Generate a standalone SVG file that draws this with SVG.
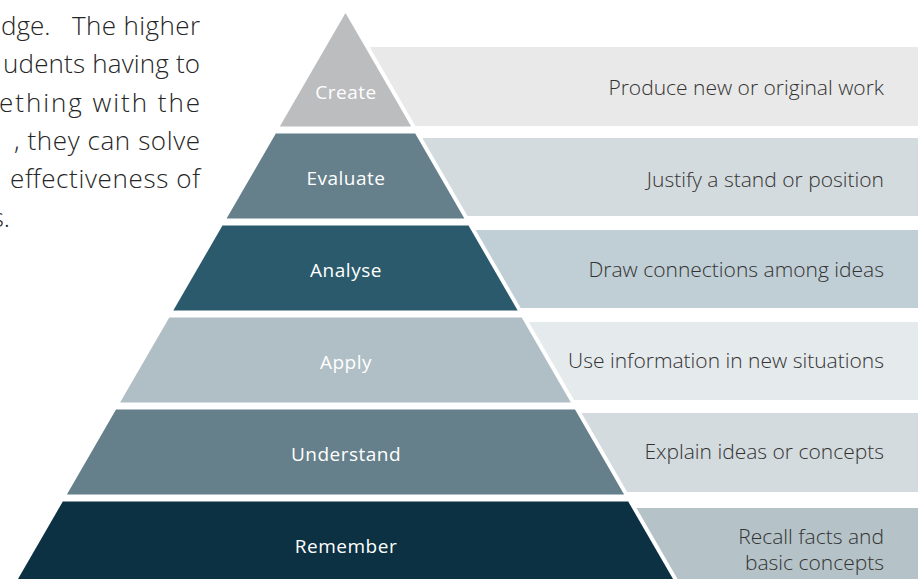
<svg xmlns="http://www.w3.org/2000/svg" width="920" height="579" viewBox="0 0 920 579">
  <style>
    .para { font-family: "Open Sans", "Noto Sans", sans-serif; font-size: 26px; font-weight: 300; fill: #262626; }
    .lvl { font-family: "Open Sans", "Noto Sans", sans-serif; font-size: 19px; fill: #ffffff; text-anchor: middle; letter-spacing: 0.5px; }
    .desc { font-family: "Open Sans", "Noto Sans", sans-serif; font-size: 21px; font-weight: 300; fill: #333333; text-anchor: end; }
  </style>
  <rect width="920" height="579" fill="#ffffff"/>

  <!-- body copy beside the pyramid, justified and clipped at the page edge -->
  <g id="paragraph" class="para" text-anchor="end">
    <text x="1" y="35" text-anchor="start">dge.</text>
    <text x="200" y="35" textLength="128" lengthAdjust="spacing">The higher</text>
    <text x="200" y="73" textLength="197" lengthAdjust="spacing">udents having to</text>
    <text x="200" y="112" textLength="201" lengthAdjust="spacing">ething with the</text>
    <text x="200" y="150" textLength="186" lengthAdjust="spacing">, they can solve</text>
    <text x="200" y="188" textLength="190" lengthAdjust="spacing">effectiveness of</text>
    <text x="10" y="227">s.</text>
  </g>

  <!-- Bloom's taxonomy tiers: pyramid band + description panel -->
  <g id="create">
    <polygon points="345.5,13 411.2,126.5 279.8,126.5" fill="#bcbdbf"/>
    <polygon points="369.7,47 918,47 918,126 415.4,126" fill="#e8e9e8"/>
    <text class="lvl" x="346" y="99">Create</text>
    <text class="desc" x="884" y="95">Produce new or original work</text>
  </g>

  <g id="evaluate">
    <polygon points="275.8,133.5 415.2,133.5 464.4,218.5 226.6,218.5" fill="#65808b"/>
    <polygon points="422.3,138 918,138 918,216 467.5,216" fill="#d3dbde"/>
    <text class="lvl" x="346" y="185">Evaluate</text>
    <text class="desc" x="884" y="187">Justify a stand or position</text>
  </g>

  <g id="analyse">
    <polygon points="222.5,225.5 468.5,225.5 517.7,310.5 173.3,310.5" fill="#2a5a6c"/>
    <polygon points="475.6,230 918,230 918,308 520.7,308" fill="#c0ced5"/>
    <text class="lvl" x="346" y="277">Analyse</text>
    <text class="desc" x="884" y="277">Draw connections among ideas</text>
  </g>

  <g id="apply">
    <polygon points="169.3,317.5 521.7,317.5 570.9,402.5 120.1,402.5" fill="#b0bfc6"/>
    <polygon points="528.8,322 918,322 918,400 574,400" fill="#e5eaed"/>
    <text class="lvl" x="346" y="369">Apply</text>
    <text class="desc" x="884" y="368">Use information in new situations</text>
  </g>

  <g id="understand">
    <polygon points="116,409.5 575,409.5 624.1,494.5 66.9,494.5" fill="#65808b"/>
    <polygon points="581.5,413 918,413 918,492 627.2,492" fill="#d3dbde"/>
    <text class="lvl" x="346" y="461">Understand</text>
    <text class="desc" x="884" y="459">Explain ideas or concepts</text>
  </g>

  <g id="remember">
    <polygon points="62.8,501.5 628.2,501.5 673.6,580 17.4,580" fill="#0b3142"/>
    <polygon points="636.5,508 918,508 918,580 678.1,580" fill="#b5c3c8"/>
    <text class="lvl" x="346" y="553">Remember</text>
    <text class="desc" x="884" y="544">Recall facts and</text>
    <text class="desc" x="884" y="570">basic concepts</text>
  </g>
</svg>
